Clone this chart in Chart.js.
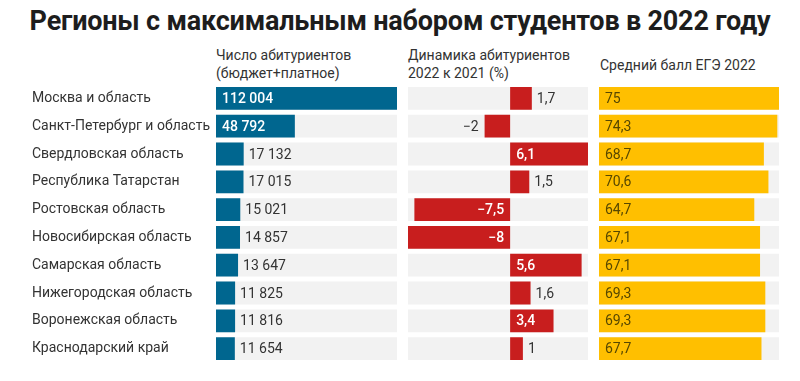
<!DOCTYPE html>
<html>
<head>
<meta charset="utf-8">
<script src="https://cdn.jsdelivr.net/npm/chart.js@4"></script>
<style>
  html, body { margin: 0; padding: 0; background: #fff; }
  body { width: 800px; height: 381px; position: relative; overflow: hidden; font-family: Roboto, "Noto Sans", sans-serif; }
  #title { position: absolute; left: 0; top: 5px; width: 800px; text-align: center; font-weight: bold; font-size: 27px; color: #1d1d1d; letter-spacing: -0.2px; }
  .hdr { position: absolute; font-size: 14px; line-height: 18px; color: #333; }
  .box { position: absolute; top: 0; height: 381px; }
</style>
</head>
<body>
<div id="title">Регионы с максимальным набором студентов в 2022 году</div>
<div class="hdr" style="left:216px; top:46px;">Число абитуриентов<br>(бюджет+платное)</div>
<div class="hdr" style="left:408px; top:46px;">Динамика абитуриентов<br>2022 к 2021 (%)</div>
<div class="hdr" style="left:600px; top:56px;">Средний балл ЕГЭ 2022</div>
<div class="box" style="left:0; width:400px;"><canvas id="c1"></canvas></div>
<div class="box" style="left:400px; width:200px;"><canvas id="c2"></canvas></div>
<div class="box" style="left:590px; width:210px;"><canvas id="c3"></canvas></div>
<script>
const regions = ["Москва и область", "Санкт-Петербург и область", "Свердловская область", "Республика Татарстан", "Ростовская область", "Новосибирская область", "Самарская область", "Нижегородская область", "Воронежская область", "Краснодарский край"];
const applicants = [112004, 48792, 17132, 17015, 15021, 14857, 13647, 11825, 11816, 11654];
const dynamics = [1.7, -2, 6.1, 1.5, -7.5, -8, 5.6, 1.6, 3.4, 1];
const egeScore = [75, 74.3, 68.7, 70.6, 64.7, 67.1, 67.1, 69.3, 69.3, 67.7];

const applicantsRange = [0, 112004];
const dynamicsRange = [-8, 6.1];
const egeRange = [0, 75];

const BLUE = '#00668f', RED = '#c81e1e', YELLOW = '#ffbf00', GREY = '#f2f2f2';
const FONT = 'Roboto, "Noto Sans", sans-serif';

function fmtInt(v) { return String(v).replace(/\B(?=(\d{3})+(?!\d))/g, ' '); }
function fmtDec(v) { return (v < 0 ? '\u2212' : '') + String(Math.abs(v)).replace('.', ','); }

const valueLabels = {
  id: 'valueLabels',
  afterDatasetsDraw(chart, args, opts) {
    const ctx = chart.ctx;
    const meta = chart.getDatasetMeta(1);
    const data = chart.data.datasets[1].data;
    ctx.save();
    ctx.textBaseline = 'middle';
    meta.data.forEach((el, i) => {
      const v = data[i];
      const text = opts.fmt(v);
      const width = Math.abs(el.x - el.base);
      ctx.font = '500 14px ' + FONT;
      const tw = ctx.measureText(text).width;
      const neg = el.x < el.base;
      let inside = opts.alwaysInside || width > tw + 12;
      let x, align, color, font;
      if (inside) {
        font = opts.insideFont || ('500 14px ' + FONT);
        color = opts.insideColor || '#fff';
        if (opts.alwaysInside) { x = el.base + 6; align = 'left'; }
        else if (neg) { x = el.base - 6; align = 'right'; }
        else { x = el.base + 6; align = 'left'; }
      } else {
        font = '14px ' + FONT;
        color = '#333';
        if (neg) { x = el.x - 6; align = 'right'; }
        else { x = el.x + 5; align = 'left'; }
      }
      ctx.font = font;
      ctx.fillStyle = color;
      ctx.textAlign = align;
      ctx.fillText(text, x, el.y + 1);
    });
    ctx.restore();
  }
};

function makeChart(id, values, range, color, pad, labelOpts, showLabels) {
  return new Chart(document.getElementById(id), {
    type: 'bar',
    data: {
      labels: regions,
      datasets: [
        { data: values.map(() => range.slice()), backgroundColor: GREY, grouped: false, order: 2, borderWidth: 0 },
        { data: values, backgroundColor: color, grouped: false, order: 1, borderWidth: 0 }
      ]
    },
    options: {
      indexAxis: 'y',
      responsive: true,
      maintainAspectRatio: false,
      animation: false,
      events: [],
      layout: { padding: pad },
      datasets: { bar: { categoryPercentage: 1, barPercentage: 0.82 } },
      plugins: { legend: { display: false }, tooltip: { enabled: false }, valueLabels: labelOpts },
      scales: {
        x: { display: false, min: range[0], max: range[1] },
        y: showLabels ? {
          display: true,
          grid: { display: false },
          border: { display: false },
          ticks: { crossAlign: 'far', color: '#333', font: { family: FONT, size: 14 }, padding: 0 },
          afterFit(scale) { scale.width = 216 - 32; }
        } : { display: false }
      }
    },
    plugins: [valueLabels]
  });
}

makeChart('c1', applicants, applicantsRange, BLUE, { top: 84.5, bottom: 18.5, left: 32, right: 3 }, { fmt: fmtInt }, true);
makeChart('c2', dynamics, dynamicsRange, RED, { top: 84.5, bottom: 18.5, left: 8, right: 12 }, { fmt: fmtDec }, false);
makeChart('c3', egeScore, egeRange, YELLOW, { top: 84.5, bottom: 18.5, left: 9, right: 21 }, { fmt: fmtDec, alwaysInside: true, insideColor: '#574800', insideFont: '14px ' + FONT }, false);
</script>
</body>
</html>
